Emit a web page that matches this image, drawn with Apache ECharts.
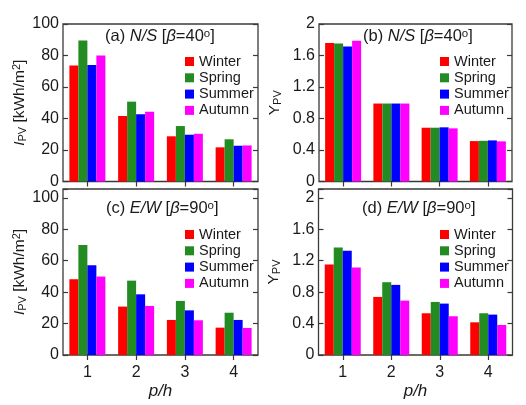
<!DOCTYPE html>
<html><head><meta charset="utf-8">
<script src="https://cdn.jsdelivr.net/npm/echarts/dist/echarts.min.js"></script>
<style>html,body{margin:0;padding:0;background:#fff}#c{width:526px;height:405px}</style>
</head><body><div id="c"></div><script>
// ---- data ----
const categories = ['1', '2', '3', '4'];
const seasons = ['Winter', 'Spring', 'Summer', 'Autumn'];
const ticksIpv = [0, 20, 40, 60, 80, 100];
const ticksYpv = [0, 0.4, 0.8, 1.2, 1.6, 2];
// (a) N/S, beta=40, I_PV [kWh/m2]
const aWinter = [73.6, 41.6, 28.7, 21.7];
const aSpring = [89.6, 50.7, 35.2, 26.8];
const aSummer = [74.0, 42.7, 29.7, 22.7];
const aAutumn = [80.0, 44.3, 30.3, 22.9];
// (b) N/S, beta=40, Y_PV
const bWinter = [1.76, 0.99, 0.683, 0.513];
const bSpring = [1.753, 0.99, 0.683, 0.517];
const bSummer = [1.715, 0.99, 0.688, 0.522];
const bAutumn = [1.787, 0.99, 0.675, 0.51];
// (c) E/W, beta=90, I_PV [kWh/m2]
const cWinter = [48.2, 30.8, 22.3, 17.4];
const cSpring = [70.0, 47.3, 34.4, 26.9];
const cSummer = [57.1, 38.6, 28.4, 22.3];
const cAutumn = [49.9, 31.2, 22.1, 17.2];
// (d) E/W, beta=90, Y_PV
const dWinter = [1.15, 0.739, 0.531, 0.416];
const dSpring = [1.367, 0.926, 0.675, 0.531];
const dSummer = [1.325, 0.892, 0.654, 0.514];
const dAutumn = [1.112, 0.692, 0.493, 0.382];

// ---- style ----
const FONT = 'Liberation Sans';
const TXT = '#1a1a1a';
const FRAME = '#3a3a3a';
const colors = ['#ff0000', '#228b22', '#0000ff', '#ff00ff'];

const panels = [
  {grid: {left: 63, top: 24, width: 195, height: 157.5}, max: 100, ticks: ticksIpv, kind: 'I',
   series: [aWinter, aSpring, aSummer, aAutumn], bottom: false, legend: {left: 185, top: 54},
   title: {left: 105, top: 28, tag: '(a) ', dir: 'N/S', beta: '40'}},
  {grid: {left: 319, top: 24, width: 193, height: 157.5}, max: 2, ticks: ticksYpv, kind: 'Y',
   series: [bWinter, bSpring, bSummer, bAutumn], bottom: false, legend: {left: 440, top: 54},
   title: {left: 363, top: 28, tag: '(b) ', dir: 'N/S', beta: '40'}},
  {grid: {left: 63, top: 189, width: 195, height: 166}, max: 105.6, ticks: ticksIpv, kind: 'I',
   series: [cWinter, cSpring, cSummer, cAutumn], bottom: true, legend: {left: 185, top: 227},
   title: {left: 106, top: 200, tag: '(c) ', dir: 'E/W', beta: '90'}},
  {grid: {left: 318.5, top: 189, width: 194, height: 166}, max: 2.112, ticks: ticksYpv, kind: 'Y',
   series: [dWinter, dSpring, dSummer, dAutumn], bottom: true, legend: {left: 440, top: 227},
   title: {left: 362, top: 200, tag: '(d) ', dir: 'E/W', beta: '90'}}
];

function fmt(ticks) {
  return function (v) {
    for (const t of ticks) if (Math.abs(v - t) < 1e-6) return String(t);
    return '';
  };
}

const grid = [], xAxis = [], yAxis = [], series = [], legend = [], title = [];
panels.forEach((p, i) => {
  grid.push(Object.assign({show: true, borderColor: FRAME, borderWidth: 1.3, backgroundColor: 'transparent',
    containLabel: false, outerBoundsMode: 'none'}, p.grid));
  const interval = p.ticks[1] - p.ticks[0];
  xAxis.push({
    type: 'category', gridIndex: i, data: categories, position: 'bottom',
    axisLine: {show: false}, axisTick: {show: false},
    axisLabel: {show: p.bottom, fontSize: 16, color: TXT, fontFamily: FONT, margin: 10},
    name: p.bottom ? 'p/h' : '', nameLocation: 'middle', nameGap: 28,
    nameTextStyle: {fontSize: 17, fontStyle: 'italic', color: TXT, fontFamily: FONT}
  });
  xAxis.push({
    type: 'category', gridIndex: i, data: categories, position: 'top',
    axisLine: {show: false},
    axisTick: {show: true, inside: true, alignWithLabel: true, length: 5, lineStyle: {color: FRAME, width: 1.2}},
    axisLabel: {show: false}
  });
  const yName = p.kind === 'I'
    ? '{it|I}{sub|PV}{n| [kWh/m}{sup|2}{n|]}'
    : '{n|Y}{sub|PV}';
  yAxis.push({
    type: 'value', gridIndex: i, min: 0, max: p.max, interval: interval, position: 'left',
    axisLine: {show: false}, splitLine: {show: false},
    axisTick: {show: true, inside: true, length: 5, lineStyle: {color: FRAME, width: 1.2}},
    axisLabel: {fontSize: 16, color: TXT, fontFamily: FONT, margin: 4, formatter: fmt(p.ticks)},
    name: yName, nameLocation: 'middle', nameRotate: 90, nameGap: p.kind === 'I' ? 33 : 36,
    nameTextStyle: {fontSize: 15.5, color: TXT, fontFamily: FONT, rich: {
      it: {fontSize: 15.5, fontStyle: 'italic', color: TXT, fontFamily: FONT},
      n: {fontSize: 15.5, color: TXT, fontFamily: FONT},
      sub: {fontSize: 11, color: TXT, fontFamily: FONT, verticalAlign: 'bottom', padding: [6, 0, 0, 0]},
      sup: {fontSize: 11, color: TXT, fontFamily: FONT, verticalAlign: 'top', padding: [0, 0, 4, 0]}
    }}
  });
  yAxis.push({
    type: 'value', gridIndex: i, min: 0, max: p.max, interval: interval, position: 'right',
    axisLine: {show: false}, splitLine: {show: false},
    axisTick: {show: true, inside: true, length: 5, lineStyle: {color: FRAME, width: 1.2}},
    axisLabel: {show: false}
  });
  p.series.forEach((d, k) => {
    series.push({
      type: 'bar', name: seasons[k], xAxisIndex: 2 * i, yAxisIndex: 2 * i, data: d,
      barWidth: 9, barGap: '0%', itemStyle: {color: colors[k]}, animation: false
    });
  });
  legend.push({
    orient: 'vertical', left: p.legend.left, top: p.legend.top, padding: 0,
    itemWidth: 9, itemHeight: 9, itemGap: 1.3, icon: 'rect', selectedMode: false,
    textStyle: {fontSize: 14.5, lineHeight: 15, color: TXT, fontFamily: FONT},
    data: seasons
  });
  title.push({
    left: p.title.left, top: p.title.top, padding: 0,
    text: '{n|' + p.title.tag + '}{i|' + p.title.dir + '}{n| [}{i|β}{n|=' + p.title.beta + '}{s|o}{n|]}',
    textStyle: {fontWeight: 'normal', rich: {
      n: {fontSize: 16.5, fontWeight: 'normal', color: TXT, fontFamily: FONT},
      i: {fontSize: 16.5, fontWeight: 'normal', fontStyle: 'italic', color: TXT, fontFamily: FONT},
      s: {fontSize: 11.5, fontWeight: 'normal', color: TXT, fontFamily: FONT, verticalAlign: 'top', padding: [0, 0, 3, 0]}
    }}
  });
});

const chart = echarts.init(document.getElementById('c'), null, {renderer: 'canvas'});
chart.setOption({animation: false, backgroundColor: '#fff', grid, xAxis, yAxis, series, legend, title});
</script></body></html>
